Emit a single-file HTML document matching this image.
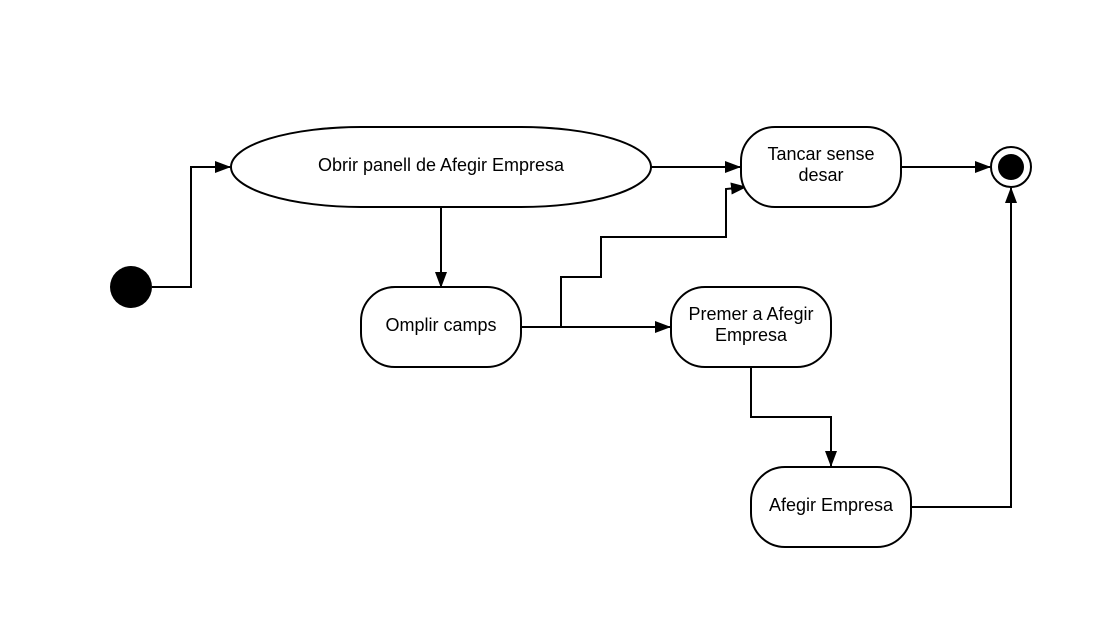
<!DOCTYPE html>
<html><head><style>html,body{margin:0;padding:0;background:#fff}</style></head>
<body>
<svg width="1105" height="617" xmlns="http://www.w3.org/2000/svg" font-family="Liberation Sans, sans-serif" font-size="18">
<defs><marker id="a" markerWidth="16" markerHeight="12" refX="15" refY="6" orient="auto" markerUnits="userSpaceOnUse"><path d="M0,0 L16,6 L0,12 Z" fill="#000"/></marker></defs>
<rect width="1105" height="617" fill="#fff"/>
<g fill="none" stroke="#000" stroke-width="2">
<polyline points="152,287 191,287 191,167 230,167" marker-end="url(#a)"/>
<line x1="651" y1="167" x2="740" y2="167" marker-end="url(#a)"/>
<line x1="901" y1="167" x2="990" y2="167" marker-end="url(#a)"/>
<line x1="441" y1="207" x2="441" y2="287" marker-end="url(#a)"/>
<line x1="521" y1="327" x2="670" y2="327" marker-end="url(#a)"/>
<polyline points="561,327 561,277 601,277 601,237 726,237 726,189 746,187" marker-end="url(#a)"/>
<polyline points="751,367 751,417 831,417 831,466" marker-end="url(#a)"/>
<polyline points="911,507 1011,507 1011,188" marker-end="url(#a)"/>
<rect x="231" y="127" width="420" height="80" rx="130" ry="40" fill="#fff"/>
<rect x="741" y="127" width="160" height="80" rx="34" fill="#fff"/>
<rect x="361" y="287" width="160" height="80" rx="34" fill="#fff"/>
<rect x="671" y="287" width="160" height="80" rx="34" fill="#fff"/>
<rect x="751" y="467" width="160" height="80" rx="34" fill="#fff"/>
<circle cx="1011" cy="167" r="20" fill="#fff"/>
</g>
<circle cx="131" cy="287" r="21"/>
<circle cx="1011" cy="167" r="13"/>
<g text-anchor="middle">
<text x="441" y="171">Obrir panell de Afegir Empresa</text>
<text x="821" y="160">Tancar sense</text>
<text x="821" y="181">desar</text>
<text x="441" y="331">Omplir camps</text>
<text x="751" y="320">Premer a Afegir</text>
<text x="751" y="341">Empresa</text>
<text x="831" y="511">Afegir Empresa</text>
</g>
</svg>
</body></html>
